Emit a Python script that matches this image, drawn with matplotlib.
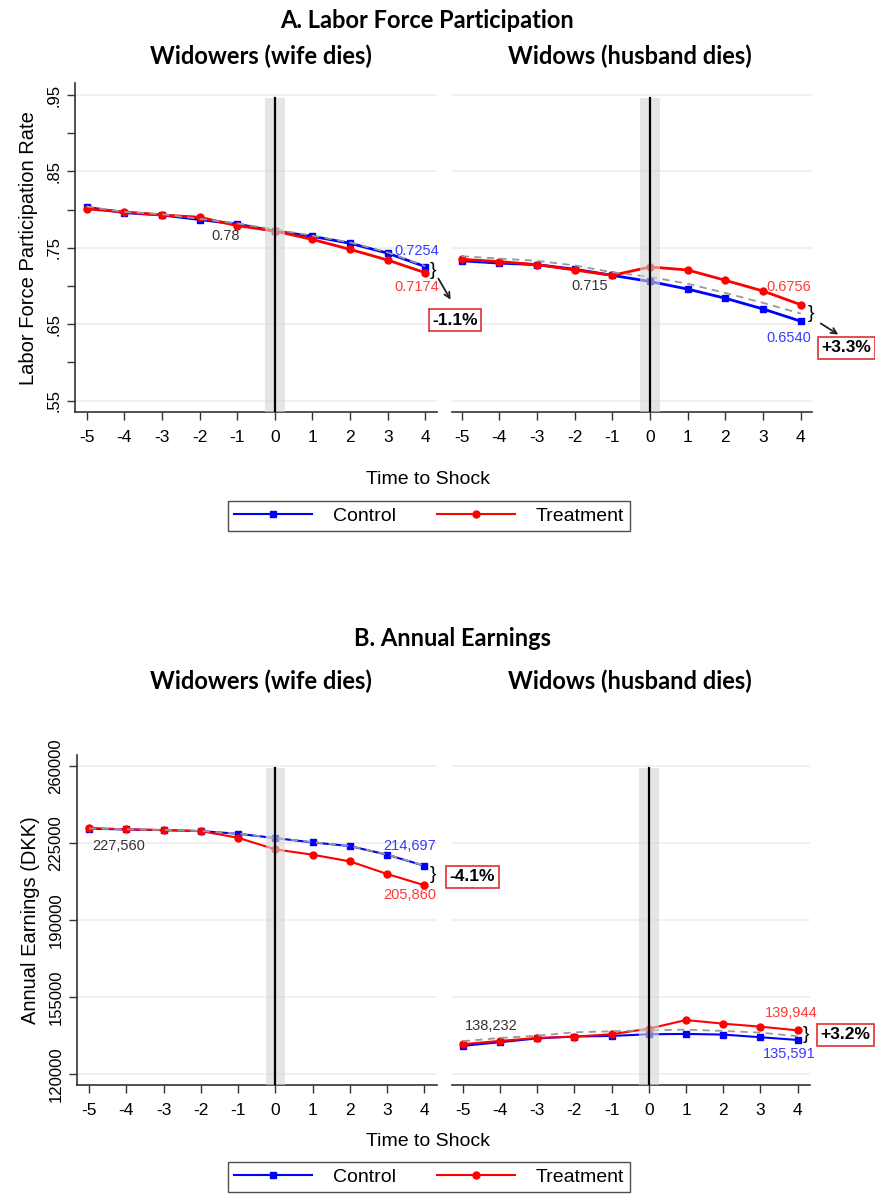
import matplotlib.pyplot as plt
from matplotlib.lines import Line2D

plt.rcParams['font.family'] = ['Liberation Sans', 'DejaVu Sans']

# time to shock
years = [-5, -4, -3, -2, -1, 0, 1, 2, 3, 4]

# A. labor force participation
lfp_men_control = [0.803, 0.796, 0.793, 0.787, 0.781, 0.772, 0.765, 0.756, 0.743, 0.7254]
lfp_men_treat = [0.801, 0.797, 0.793, 0.790, 0.779, 0.772, 0.761, 0.748, 0.734, 0.7174]
lfp_men_cf = [0.804, 0.797, 0.794, 0.788, 0.782, 0.774, 0.766, 0.757, 0.744, 0.726]
lfp_women_control = [0.733, 0.730, 0.728, 0.722, 0.714, 0.706, 0.696, 0.684, 0.670, 0.6540]
lfp_women_treat = [0.735, 0.732, 0.728, 0.721, 0.714, 0.725, 0.721, 0.7075, 0.6935, 0.6756]
lfp_women_cf = [0.739, 0.736, 0.733, 0.727, 0.718, 0.712, 0.703, 0.691, 0.678, 0.664]

# B. annual earnings (DKK)
earn_men_control = [231500, 231190, 230890, 230430, 229230, 227260, 225300, 223640, 219720, 214697]
earn_men_treat = [231900, 231190, 230890, 230430, 227410, 222130, 219720, 216700, 210970, 205860]
earn_men_cf = [231600, 231250, 230950, 230480, 229300, 227350, 225400, 223700, 219800, 214800]
earn_women_control = [132920, 134570, 136300, 137130, 137430, 138180, 138330, 138030, 136830, 135591]
earn_women_treat = [133670, 135170, 136520, 137130, 138180, 140730, 144640, 142980, 141630, 139944]
earn_women_cf = [135030, 136500, 137500, 139080, 139530, 139980, 140280, 139680, 138930, 137280]

lfp_ticks = [0.55, 0.65, 0.75, 0.85, 0.95]
lfp_tick_labels = ['.55', '.65', '.75', '.85', '.95']
lfp_minor = [0.60, 0.70, 0.80, 0.90]
earn_ticks = [120000, 155000, 190000, 225000, 260000]

BLUE = '#0000ff'
RED = '#ff0000'

W, H = 875, 1195
fig = plt.figure(figsize=(W / 100, H / 100), dpi=100)


def px_axes(x0, x1, y0, y1):
    # axes from pixel box (y measured from top)
    ax = fig.add_axes([x0 / W, 1 - y1 / H, (x1 - x0) / W, (y1 - y0) / H])
    ax.patch.set_visible(False)
    return ax


def setup(ax, xlim, ylim, yticks, show_y):
    ax.set_xlim(*xlim)
    ax.set_ylim(*ylim)
    ax.set_xticks(years)
    ax.set_xticklabels([str(y) for y in years], fontsize=12.5)
    ax.tick_params(axis='x', length=6, width=1, pad=7, color='#333333')
    ax.set_yticks(yticks)
    for v in yticks:
        ax.axhline(v, color='#eeeeee', lw=1.2, zorder=0)
    for s in ['top', 'right']:
        ax.spines[s].set_visible(False)
    ax.spines['bottom'].set_color('#333333')
    ax.spines['bottom'].set_linewidth(1.2)
    if show_y:
        ax.spines['left'].set_color('#333333')
        ax.spines['left'].set_linewidth(1.2)
        ax.tick_params(axis='y', length=6, width=1, pad=4, color='#333333', labelsize=12)
    else:
        ax.spines['left'].set_visible(False)
        ax.tick_params(axis='y', length=0, labelleft=False)


def draw(ax, ctrl, treat, cf, lw, ytop):
    ax.plot(years, ctrl, color=BLUE, lw=lw, marker='s', ms=4.5, zorder=3)
    ax.plot(years, treat, color=RED, lw=lw, marker='o', ms=5, zorder=3)
    ax.plot(years, cf, color='#999999', lw=1.3, ls=(0, (4, 3)), zorder=4)
    ax.axvspan(-0.26, 0.26, ymax=ytop, color='#d4d4d4', alpha=0.6, lw=0, zorder=5)
    ax.axvline(0, ymax=ytop, color='black', lw=1.6, zorder=6)


def box(ax, x, y, s):
    ax.text(x, y, s, fontsize=12.5, fontweight='bold', ha='center', va='center',
            bbox=dict(boxstyle='square,pad=0.2', fc='white', ec='#e03030', lw=1.2),
            clip_on=False, zorder=10)


def lab(ax, x, y, s, c):
    ax.text(x, y, s, fontsize=10.5, color=c, ha='center', va='center', clip_on=False, zorder=9)


def brace(ax, x, y):
    ax.text(x, y, '}', fontsize=14, ha='center', va='center', clip_on=False, zorder=9)


# ---------------- Panel A ----------------
axA1 = px_axes(75, 437, 83, 412.3)
axA1.set_zorder(3)
setup(axA1, (-5.311, 4.311), (0.5348, 0.9657), lfp_ticks, True)
axA1.set_yticklabels(lfp_tick_labels, rotation=90, va='center')
axA1.set_yticks(lfp_minor, minor=True)
axA1.tick_params(axis='y', which='minor', length=6, width=1, color='#333333')
axA1.set_ylabel('Labor Force Participation Rate', fontsize=14.5, labelpad=6)
draw(axA1, lfp_men_control, lfp_men_treat, lfp_men_cf, 2, 0.954)
lab(axA1, -1.30, 0.7655, '0.78', '#333333')
lab(axA1, 3.77, 0.746, '0.7254', '#3a3aff')
lab(axA1, 3.77, 0.699, '0.7174', '#ff3a3a')
brace(axA1, 4.21, 0.7200)
axA1.annotate('', xy=(4.71, 0.679), xytext=(4.31, 0.713), annotation_clip=False,
              arrowprops=dict(arrowstyle='->', color='#222222', lw=1.3))
box(axA1, 4.785, 0.6555, '-1.1%')

axA2 = px_axes(451.7, 811.7, 83, 412.3)
setup(axA2, (-5.265, 4.292), (0.5348, 0.9657), lfp_ticks, False)
draw(axA2, lfp_women_control, lfp_women_treat, lfp_women_cf, 2, 0.954)
lab(axA2, -1.60, 0.7004, '0.715', '#333333')
lab(axA2, 3.69, 0.699, '0.6756', '#ff3a3a')
lab(axA2, 3.69, 0.6324, '0.6540', '#3a3aff')
brace(axA2, 4.27, 0.664)
axA2.annotate('', xy=(5.06, 0.6346), xytext=(4.47, 0.653), annotation_clip=False,
              arrowprops=dict(arrowstyle='->', color='#222222', lw=1.3))
box(axA2, 5.22, 0.619, '+3.3%')

# ---------------- Panel B ----------------
axB1 = px_axes(77.3, 437, 755, 1085)
axB1.set_zorder(3)
setup(axB1, (-5.314, 4.34), (115140, 264990), earn_ticks, True)
axB1.set_yticklabels([str(v) for v in earn_ticks], rotation=90, va='center')
axB1.set_ylabel('Annual Earnings (DKK)', fontsize=14.5, labelpad=6)
draw(axB1, earn_men_control, earn_men_treat, earn_men_cf, 1.5, 0.96)
lab(axB1, -4.19, 223680, '227,560', '#333333')
lab(axB1, 3.60, 223680, '214,697', '#3a3aff')
lab(axB1, 3.60, 201440, '205,860', '#ff3a3a')
brace(axB1, 4.24, 210520)
box(axB1, 5.29, 209610, '-4.1%')

axB2 = px_axes(451.7, 810, 755, 1085)
setup(axB2, (-5.296, 4.33), (115140, 264990), earn_ticks, False)
draw(axB2, earn_women_control, earn_women_treat, earn_women_cf, 1.5, 0.96)
lab(axB2, -4.23, 141800, '138,232', '#333333')
lab(axB2, 3.83, 147730, '139,944', '#ff3a3a')
lab(axB2, 3.78, 129260, '135,591', '#3a3aff')
brace(axB2, 4.23, 137880)
box(axB2, 5.28, 137880, '+3.2%')

# ---------------- titles ----------------
tfont = ['Lato', 'DejaVu Sans']
fig.text(427 / W, 1 - 28 / H, 'A. Labor Force Participation', fontsize=17, fontweight='bold',
         family=tfont, ha='center', va='baseline')
fig.text(261 / W, 1 - 64 / H, 'Widowers (wife dies)', fontsize=17, fontweight='bold',
         family=tfont, ha='center', va='baseline')
fig.text(630 / W, 1 - 64 / H, 'Widows (husband dies)', fontsize=17, fontweight='bold',
         family=tfont, ha='center', va='baseline')
fig.text(452 / W, 1 - 646 / H, 'B. Annual Earnings', fontsize=17, fontweight='bold',
         family=tfont, ha='center', va='baseline')
fig.text(261 / W, 1 - 689 / H, 'Widowers (wife dies)', fontsize=17, fontweight='bold',
         family=tfont, ha='center', va='baseline')
fig.text(630 / W, 1 - 689 / H, 'Widows (husband dies)', fontsize=17, fontweight='bold',
         family=tfont, ha='center', va='baseline')

# x titles and legends
handles = [Line2D([], [], color=BLUE, lw=1.5, marker='s', ms=4),
           Line2D([], [], color=RED, lw=1.5, marker='o', ms=5)]
for ty, ly in [(480, 516), (1142, 1177)]:
    fig.text(428 / W, 1 - ty / H, 'Time to Shock', fontsize=14, ha='center', va='center')
    leg = fig.legend(handles, ['Control', 'Treatment'], loc='center',
                     bbox_to_anchor=(429 / W, 1 - ly / H), ncol=2, fontsize=14,
                     handlelength=4.0, handletextpad=1.1, columnspacing=2.1,
                     frameon=True, fancybox=False, borderpad=0.3)
    leg.get_frame().set_edgecolor('#222222')
    leg.get_frame().set_linewidth(1.0)

fig.savefig('out.png', dpi=100)
